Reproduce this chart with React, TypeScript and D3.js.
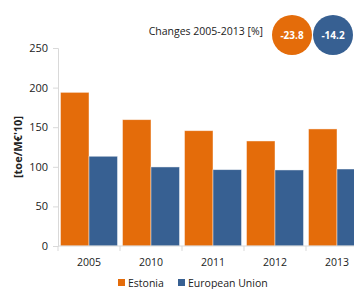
import React, { useEffect, useRef } from 'react';
import * as d3 from 'd3';

const years = ['2005', '2010', '2011', '2012', '2013'];
const estonia = [194, 159.5, 145.6, 132.6, 147.8];
const eu = [113.3, 99.8, 96.4, 96.0, 97.2];
const seriesNames = ['Estonia', 'European Union'];
const seriesColors = ['#E46C0A', '#376092'];
const changes = ['-23.8', '-14.2'];
const yTicks = [0, 50, 100, 150, 200, 250];

const W = 354;
const H = 289;
const FONT = "'Open Sans', 'Liberation Sans', sans-serif";

const App = () => {
  const svgRef = useRef<SVGSVGElement>(null);

  useEffect(() => {
    const svg = d3.select(svgRef.current);
    svg.selectAll('*').remove();

    const x0 = d3.scaleBand().domain(years).range([58, 368]).padding(0);
    const x1 = d3.scaleBand().domain(seriesNames).range([2.5, x0.bandwidth() - 2.5]).padding(0);
    const y = d3.scaleLinear().domain([0, 250]).range([246, 48]);

    // y axis
    const ya = svg.append('g').attr('transform', 'translate(58,0)')
      .call(d3.axisLeft(y).tickValues(yTicks).tickSize(5).tickPadding(5));
    ya.select('.domain').attr('stroke', '#d9d9d9');
    ya.selectAll('line').attr('stroke', '#d9d9d9');
    ya.selectAll('text').attr('font-family', FONT).attr('font-size', 11).attr('fill', '#222');

    // bars
    const data = years.map((yr, i) => ({ yr, vals: [estonia[i], eu[i]] }));
    svg.append('g').selectAll('g').data(data).join('g')
      .attr('transform', d => `translate(${x0(d.yr)},0)`)
      .selectAll('rect')
      .data(d => d.vals.map((v, j) => ({ v, j })))
      .join('rect')
      .attr('x', d => x1(seriesNames[d.j])!)
      .attr('width', x1.bandwidth())
      .attr('y', d => y(d.v))
      .attr('height', d => y(0) - y(d.v))
      .attr('fill', d => seriesColors[d.j])
      .attr('stroke', 'rgba(255,255,255,0.55)')
      .attr('stroke-width', 0.8);

    // x axis
    const xa = svg.append('g').attr('transform', 'translate(0,246)');
    xa.append('line').attr('x1', 58).attr('x2', 368).attr('stroke', '#d9d9d9');
    xa.selectAll('line.tk').data(years).join('line').attr('class', 'tk')
      .attr('x1', d => x0(d)!).attr('x2', d => x0(d)!)
      .attr('y1', 0).attr('y2', 5).attr('stroke', '#d9d9d9');
    xa.selectAll('text').data(years).join('text')
      .attr('x', d => x0(d)! + x0.bandwidth() / 2)
      .attr('y', 20)
      .attr('text-anchor', 'middle')
      .attr('font-family', FONT).attr('font-size', 10.5).attr('fill', '#222')
      .text(d => d);

    // y label
    svg.append('text')
      .attr('transform', 'translate(22,147) rotate(-90)')
      .attr('text-anchor', 'middle')
      .attr('font-family', FONT).attr('font-size', 11).attr('font-weight', 'bold').attr('fill', '#222')
      .text('[toe/M€\'10]');

    // changes
    svg.append('text')
      .attr('x', 263).attr('y', 35)
      .attr('text-anchor', 'end')
      .attr('font-family', FONT).attr('font-size', 10.5).attr('fill', '#222')
      .text('Changes 2005-2013 [%]');
    const cx = [292, 333];
    changes.forEach((c, i) => {
      svg.append('circle').attr('cx', cx[i]).attr('cy', 35).attr('r', 20).attr('fill', seriesColors[i]);
      svg.append('text').attr('x', cx[i]).attr('y', 39)
        .attr('text-anchor', 'middle')
        .attr('font-family', FONT).attr('font-size', 10).attr('font-weight', 'bold').attr('fill', '#fff')
        .text(c);
    });

    // legend
    const lx = [118, 178];
    seriesNames.forEach((s, i) => {
      svg.append('rect').attr('x', lx[i]).attr('y', 279).attr('width', 7).attr('height', 7).attr('fill', seriesColors[i]);
      svg.append('text').attr('x', lx[i] + 10).attr('y', 287)
        .attr('font-family', FONT).attr('font-size', 10.5).attr('fill', '#222')
        .text(s);
    });
  }, []);

  return (
    <svg ref={svgRef} width={W} height={H}
      style={{ position: 'absolute', left: 0, top: 0, background: '#fff' }} />
  );
};

export default App;
